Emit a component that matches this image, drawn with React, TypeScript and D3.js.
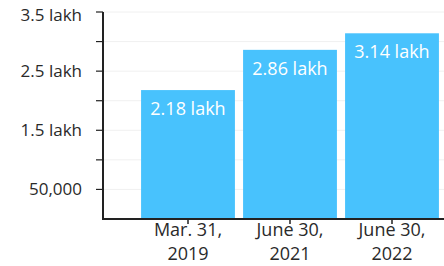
import React, { useEffect, useRef } from 'react';
import * as d3 from 'd3';

const categories = [['Mar. 31,', '2019'], ['June 30,', '2021'], ['June 30,', '2022']];
const values = [218000, 286000, 314000];
const valueLabels = ['2.18 lakh', '2.86 lakh', '3.14 lakh'];
const yTicks = [0, 50000, 100000, 150000, 200000, 250000, 300000, 350000];
const yTickLabels: { [k: number]: string } = { 50000: '50,000', 150000: '1.5 lakh', 250000: '2.5 lakh', 350000: '3.5 lakh' };

const App = () => {
    const ref = useRef<SVGSVGElement>(null);
    const width = 444;
    const height = 266;

    useEffect(() => {
        const svg = d3.select(ref.current);
        svg.selectAll('*').remove();

        const axisX = 103;
        const baseY = 219;
        const font = "'Open Sans', sans-serif";
        const fs = '18px';

        const y = d3.scaleLinear().domain([0, 350000]).range([baseY, 12]);
        const x = d3.scaleBand<number>()
            .domain(d3.range(values.length))
            .range([137, 443])
            .paddingInner(0.08)
            .paddingOuter(0.04);

        // faint gridlines
        svg.append('g')
            .selectAll('line')
            .data(yTicks.filter(t => t > 0))
            .enter()
            .append('line')
            .attr('x1', axisX)
            .attr('x2', width)
            .attr('y1', d => y(d))
            .attr('y2', d => y(d))
            .attr('stroke', '#f0f0f0')
            .attr('stroke-width', 1);

        // bars
        svg.append('g')
            .selectAll('rect')
            .data(values)
            .enter()
            .append('rect')
            .attr('x', (d, i) => x(i)!)
            .attr('width', x.bandwidth())
            .attr('y', d => y(d))
            .attr('height', d => baseY - y(d))
            .attr('fill', '#48c2fd');

        // value labels inside bars
        svg.append('g')
            .selectAll('text')
            .data(values)
            .enter()
            .append('text')
            .attr('x', (d, i) => x(i)! + x.bandwidth() / 2)
            .attr('y', d => y(d) + 25)
            .attr('text-anchor', 'middle')
            .style('font-family', font)
            .style('font-size', fs)
            .attr('fill', '#fff')
            .text((d, i) => valueLabels[i]);

        // y axis
        const yAxis = svg.append('g');
        yAxis.append('line')
            .attr('x1', axisX).attr('x2', axisX)
            .attr('y1', y(350000)).attr('y2', baseY)
            .attr('stroke', '#222').attr('stroke-width', 2);
        yAxis.selectAll('.tick')
            .data(yTicks.filter(t => t > 0))
            .enter()
            .append('line')
            .attr('x1', axisX - 7).attr('x2', axisX)
            .attr('y1', d => y(d)).attr('y2', d => y(d))
            .attr('stroke', '#222').attr('stroke-width', 1.2);
        yAxis.selectAll('text')
            .data(yTicks.filter(t => yTickLabels[t]))
            .enter()
            .append('text')
            .attr('x', 82)
            // top label sits a little below its tick so it is not clipped
            .attr('y', d => y(d) + (d === 350000 ? 9 : 6))
            .attr('text-anchor', 'end')
            .style('font-family', font)
            .style('font-size', '17px')
            .attr('fill', '#2a2a2a')
            .text(d => yTickLabels[d]);

        // x axis
        const xAxis = svg.append('g');
        xAxis.append('line')
            .attr('x1', axisX - 1).attr('x2', width)
            .attr('y1', baseY).attr('y2', baseY)
            .attr('stroke', '#222').attr('stroke-width', 2);
        xAxis.selectAll('.tick')
            .data(d3.range(values.length))
            .enter()
            .append('line')
            .attr('x1', i => x(i)! + x.bandwidth() / 2)
            .attr('x2', i => x(i)! + x.bandwidth() / 2)
            .attr('y1', baseY).attr('y2', baseY + 5)
            .attr('stroke', '#222').attr('stroke-width', 1.5);
        const labels = xAxis.selectAll('.lbl')
            .data(categories)
            .enter()
            .append('text')
            .attr('text-anchor', 'middle')
            .style('font-family', font)
            .style('font-size', fs)
            .attr('fill', '#2a2a2a');
        labels.append('tspan')
            .attr('x', (d, i) => x(i)! + x.bandwidth() / 2)
            .attr('y', 236)
            .text(d => d[0]);
        labels.append('tspan')
            .attr('x', (d, i) => x(i)! + x.bandwidth() / 2)
            .attr('y', 260)
            .text(d => d[1]);
    }, []);

    return (
        <svg ref={ref} width={width} height={height}
            style={{ position: 'absolute', left: 0, top: 0, background: '#fff' }} />
    );
};

export default App;
